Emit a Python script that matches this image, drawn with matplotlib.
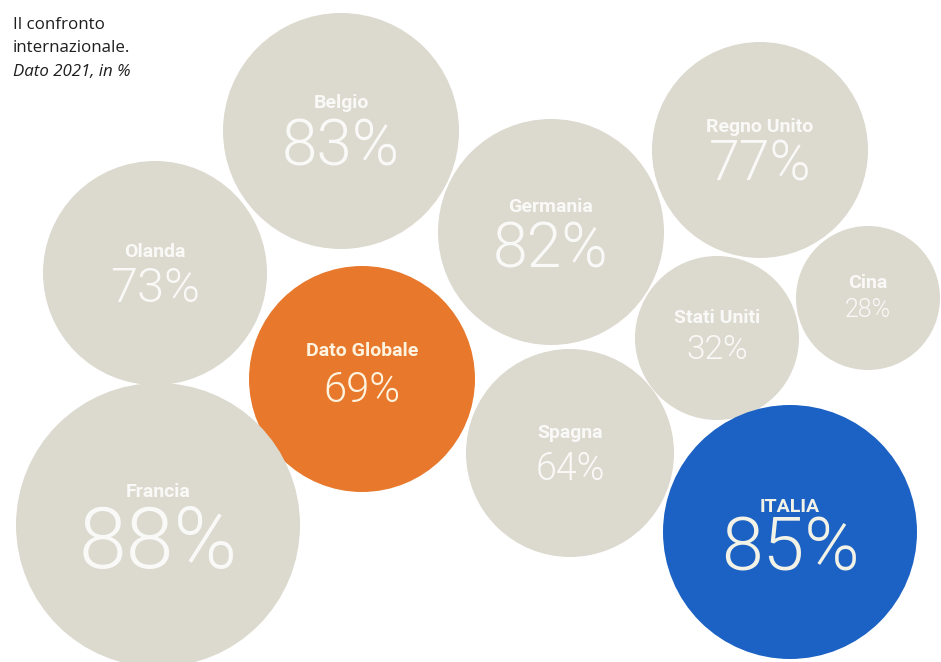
import matplotlib
matplotlib.use("Agg")
import matplotlib.pyplot as plt
from matplotlib.patches import Circle

# ---- data ----
countries = ["Belgio", "Olanda", "Dato Globale", "Francia", "Germania",
             "Spagna", "Regno Unito", "Stati Uniti", "Cina", "ITALIA"]
values = [83, 73, 69, 88, 82, 64, 77, 32, 28, 85]
title_lines = ["Il confronto", "internazionale."]
subtitle = "Dato 2021, in %"

# ---- layout (pixel space) ----
cx = [341, 155, 362, 158, 551, 570, 760, 717, 868, 790]
cy = [131, 273, 379, 525, 232, 453, 150, 338, 298, 532]
rad = [118, 112, 113, 142, 113, 104, 108, 82, 72, 127]
label_y = [103, 252, 351, 492, 207, 433, 127, 318, 283, 507]
num_y = [145, 287, 388, 543, 248, 467, 163, 348, 308, 548]
num_size = [46, 35, 30, 62, 45, 27, 40, 24, 18, 54]
lab_size = 14

GREY = "#dcd9cf"
ORANGE = "#e8782c"
BLUE = "#1c62c4"
colors = {"Dato Globale": ORANGE, "ITALIA": BLUE}

fig = plt.figure(figsize=(9.41, 6.62), dpi=100)
ax = fig.add_axes([0, 0, 1, 1])
ax.set_xlim(0, 941)
ax.set_ylim(662, 0)
ax.set_aspect("equal")
ax.axis("off")
fig.patch.set_facecolor("white")

for name, v, x, y, r, ly, ny, ns in zip(countries, values, cx, cy, rad,
                                        label_y, num_y, num_size):
    col = colors.get(name, GREY)
    ax.add_patch(Circle((x, y), r, facecolor=col, edgecolor="none", zorder=1))
    highlighted = name in colors
    txtcol = "#fffbea" if highlighted else "white"
    a = 0.95 if highlighted else 0.85
    ax.text(x, ly, name, ha="center", va="center",
            fontsize=lab_size, fontweight="bold", family=["Roboto", "DejaVu Sans"],
            color=txtcol, alpha=a, zorder=3)
    ax.text(x, ny + 2, f"{v}%", ha="center", va="center",
            fontsize=ns, fontweight=300, family=["Roboto", "DejaVu Sans"],
            color=txtcol, alpha=a, zorder=3)

tfont = dict(ha="left", va="center", fontsize=12.2,
             family=["Open Sans", "DejaVu Sans"], color="#1e1e1e")
ax.text(13, 25, title_lines[0], **tfont)
ax.text(13, 48, title_lines[1], **tfont)
ax.text(13, 72, subtitle, style="italic", **tfont)

fig.savefig("out.png", dpi=100, facecolor="white")
